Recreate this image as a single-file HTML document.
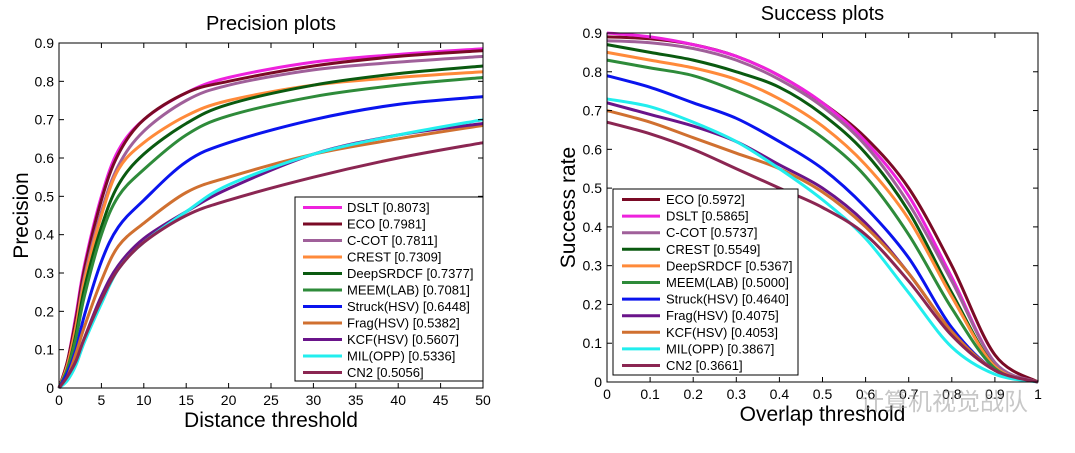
<!DOCTYPE html>
<html><head><meta charset="utf-8"><style>
body{margin:0;background:#fff;width:1075px;height:448px;overflow:hidden;font-family:"Liberation Sans","Noto Sans CJK SC",sans-serif}
svg text{font-family:"Liberation Sans","Noto Sans CJK SC",sans-serif}
</style></head><body>
<svg id="s" width="1075" height="448" xmlns="http://www.w3.org/2000/svg"></svg>
<script>
// Precision chart data
const pNames=["DSLT [0.8073]","ECO [0.7981]","C-COT [0.7811]","CREST [0.7309]","DeepSRDCF [0.7377]","MEEM(LAB) [0.7081]","Struck(HSV) [0.6448]","Frag(HSV) [0.5382]","KCF(HSV) [0.5607]","MIL(OPP) [0.5336]","CN2 [0.5056]"];
const pColors=["#ee22dd","#7a0a25","#a0609a","#ff8a3a","#0a5a10","#2e8b3a","#0a14ee","#d07030","#6a148a","#22eeee","#8b2652"];
const pX=[0,1,2,3,5,7,10,15,20,30,40,50];
const pY=[
[0,0.07,0.19,0.32,0.50,0.62,0.70,0.77,0.81,0.85,0.87,0.885],
[0,0.07,0.18,0.31,0.49,0.61,0.70,0.77,0.80,0.84,0.865,0.88],
[0,0.06,0.16,0.29,0.46,0.58,0.67,0.75,0.79,0.83,0.85,0.865],
[0,0.06,0.16,0.28,0.45,0.57,0.64,0.71,0.75,0.79,0.81,0.825],
[0,0.05,0.14,0.26,0.42,0.53,0.61,0.69,0.74,0.79,0.82,0.84],
[0,0.05,0.13,0.24,0.40,0.50,0.57,0.66,0.71,0.76,0.79,0.81],
[0,0.04,0.10,0.19,0.33,0.42,0.49,0.59,0.64,0.70,0.74,0.76],
[0,0.03,0.09,0.16,0.28,0.37,0.43,0.51,0.55,0.61,0.65,0.685],
[0,0.03,0.07,0.13,0.24,0.32,0.39,0.46,0.52,0.61,0.66,0.69],
[0,0.02,0.06,0.12,0.22,0.31,0.38,0.46,0.53,0.61,0.66,0.70],
[0,0.03,0.07,0.13,0.23,0.31,0.38,0.45,0.49,0.55,0.60,0.64]];
const pXTicks=[0,5,10,15,20,25,30,35,40,45,50];
const yTicks=[0,0.1,0.2,0.3,0.4,0.5,0.6,0.7,0.8,0.9];
// Success chart data
const sNames=["ECO [0.5972]","DSLT [0.5865]","C-COT [0.5737]","CREST [0.5549]","DeepSRDCF [0.5367]","MEEM(LAB) [0.5000]","Struck(HSV) [0.4640]","Frag(HSV) [0.4075]","KCF(HSV) [0.4053]","MIL(OPP) [0.3867]","CN2 [0.3661]"];
const sColors=["#7a0a25","#ee22dd","#a0609a","#0a5a10","#ff8a3a","#2e8b3a","#0a14ee","#6a148a","#d07030","#22eeee","#8b2652"];
const sX=[0,0.1,0.2,0.3,0.4,0.5,0.6,0.7,0.8,0.9,1];
const sY=[
[0.89,0.885,0.87,0.84,0.79,0.72,0.63,0.50,0.30,0.07,0],
[0.90,0.89,0.87,0.84,0.79,0.72,0.62,0.48,0.27,0.05,0],
[0.88,0.875,0.86,0.83,0.78,0.71,0.61,0.46,0.26,0.05,0],
[0.87,0.85,0.83,0.80,0.76,0.69,0.59,0.44,0.23,0.04,0],
[0.85,0.83,0.81,0.78,0.73,0.66,0.56,0.42,0.22,0.04,0],
[0.83,0.81,0.79,0.75,0.70,0.63,0.53,0.38,0.19,0.035,0],
[0.79,0.76,0.72,0.68,0.62,0.55,0.45,0.32,0.14,0.03,0],
[0.72,0.69,0.66,0.62,0.56,0.50,0.41,0.28,0.13,0.03,0],
[0.70,0.67,0.63,0.59,0.55,0.49,0.40,0.28,0.13,0.03,0],
[0.73,0.71,0.67,0.62,0.55,0.47,0.37,0.23,0.09,0.02,0],
[0.67,0.64,0.60,0.55,0.50,0.45,0.38,0.26,0.12,0.03,0]];
const sXTicks=[0,0.1,0.2,0.3,0.4,0.5,0.6,0.7,0.8,0.9,1];

const svg=document.getElementById('s');
const NS="http://www.w3.org/2000/svg";
function mk(tag,attrs,parent,text){const e=document.createElementNS(NS,tag);for(const k in attrs)e.setAttribute(k,attrs[k]);if(text!==undefined)e.textContent=text;(parent||svg).appendChild(e);return e;}
function smooth(pts){let d="M"+pts[0][0]+","+pts[0][1];for(let i=0;i<pts.length-1;i++){const p0=pts[i-1]||pts[i],p1=pts[i],p2=pts[i+1],p3=pts[i+2]||p2;const c1=[p1[0]+(p2[0]-p0[0])/6,p1[1]+(p2[1]-p0[1])/6],c2=[p2[0]-(p3[0]-p1[0])/6,p2[1]-(p3[1]-p1[1])/6];d+=" C"+c1+" "+c2+" "+p2;}return d;}

function chart(cfg){
  const g=mk('g',{},svg);
  const sx=v=>cfg.x0+(v-cfg.xmin)/(cfg.xmax-cfg.xmin)*(cfg.x1-cfg.x0);
  const sy=v=>cfg.y0-v/0.9*(cfg.y0-cfg.y1);
  let t=mk('text',{x:(cfg.x0+cfg.x1)/2,y:cfg.titleY,'font-size':20,'text-anchor':'middle'},g,cfg.title);
  
  cfg.ys.forEach((ys,i)=>{const p=mk('path',{d:smooth(cfg.xs.map((x,j)=>[sx(x),sy(ys[j])])),fill:'none',stroke:cfg.colors[i],'stroke-width':3,'stroke-linejoin':'round'},g);
    });
  const b=mk('rect',{x:cfg.x0,y:cfg.y1,width:cfg.x1-cfg.x0,height:cfg.y0-cfg.y1,fill:'none',stroke:'#000','stroke-width':1},g);
  
  cfg.xticks.forEach(v=>{const x=sx(v);mk('line',{x1:x,x2:x,y1:cfg.y0,y2:cfg.y0-5,stroke:'#000'},g);mk('line',{x1:x,x2:x,y1:cfg.y1,y2:cfg.y1+5,stroke:'#000'},g);
    const l=mk('text',{x:x,y:cfg.y0+17,'font-size':14,'text-anchor':'middle'},g,String(v));});
  yTicks.forEach(v=>{const y=sy(v);mk('line',{x1:cfg.x0,x2:cfg.x0+5,y1:y,y2:y,stroke:'#000'},g);mk('line',{x1:cfg.x1,x2:cfg.x1-5,y1:y,y2:y,stroke:'#000'},g);
    const l=mk('text',{x:cfg.x0-5,y:y+5,'font-size':14,'text-anchor':'end'},g,String(v));});
  t=mk('text',{x:(cfg.x0+cfg.x1)/2,y:cfg.y0+39,'font-size':21,'text-anchor':'middle'},g,cfg.xlabel);
  const cy=(cfg.y0+cfg.y1)/2;
  t=mk('text',{x:cfg.ylx,y:cy,'font-size':21,'text-anchor':'middle',transform:`rotate(-90 ${cfg.ylx} ${cy})`},g,cfg.ylabel);
  const L=cfg.leg;const lg=mk('g',{},g);
  mk('rect',{x:L.x,y:L.y,width:L.w,height:L.h,fill:'#fff',stroke:'#000','stroke-width':1},lg);
  cfg.names.forEach((n,i)=>{const y=L.ry+i*L.dy;
    const e=mk('g',{},lg);
    mk('line',{x1:L.lx,x2:L.lx2,y1:y,y2:y,stroke:cfg.colors[i],'stroke-width':3},e);
    mk('text',{x:L.tx,y:y+4.5,'font-size':13},e,n);});
}
chart({id:'precision-plot',title:'Precision plots',titleY:30,x0:59,x1:483,y0:388,y1:43,xmin:0,xmax:50,xs:pX,ys:pY,colors:pColors,names:pNames,xticks:pXTicks,xlabel:'Distance threshold',ylabel:'Precision',ylx:28,
  leg:{x:295,y:197,w:188,h:184,ry:207.5,dy:16.5,lx:303,lx2:342,tx:347}});
chart({id:'success-plot',title:'Success plots',titleY:20,x0:607,x1:1038,y0:382,y1:33,xmin:0,xmax:1,xs:sX,ys:sY,colors:sColors,names:sNames,xticks:sXTicks,xlabel:'Overlap threshold',ylabel:'Success rate',ylx:575,
  leg:{x:613,y:189,w:185,h:186,ry:199.5,dy:16.6,lx:622,lx2:660,tx:666}});
const w=mk('text',{x:860,y:410,'font-size':24,fill:'#999','fill-opacity':0.55},svg,'计算机视觉战队');


</script>
</body></html>
